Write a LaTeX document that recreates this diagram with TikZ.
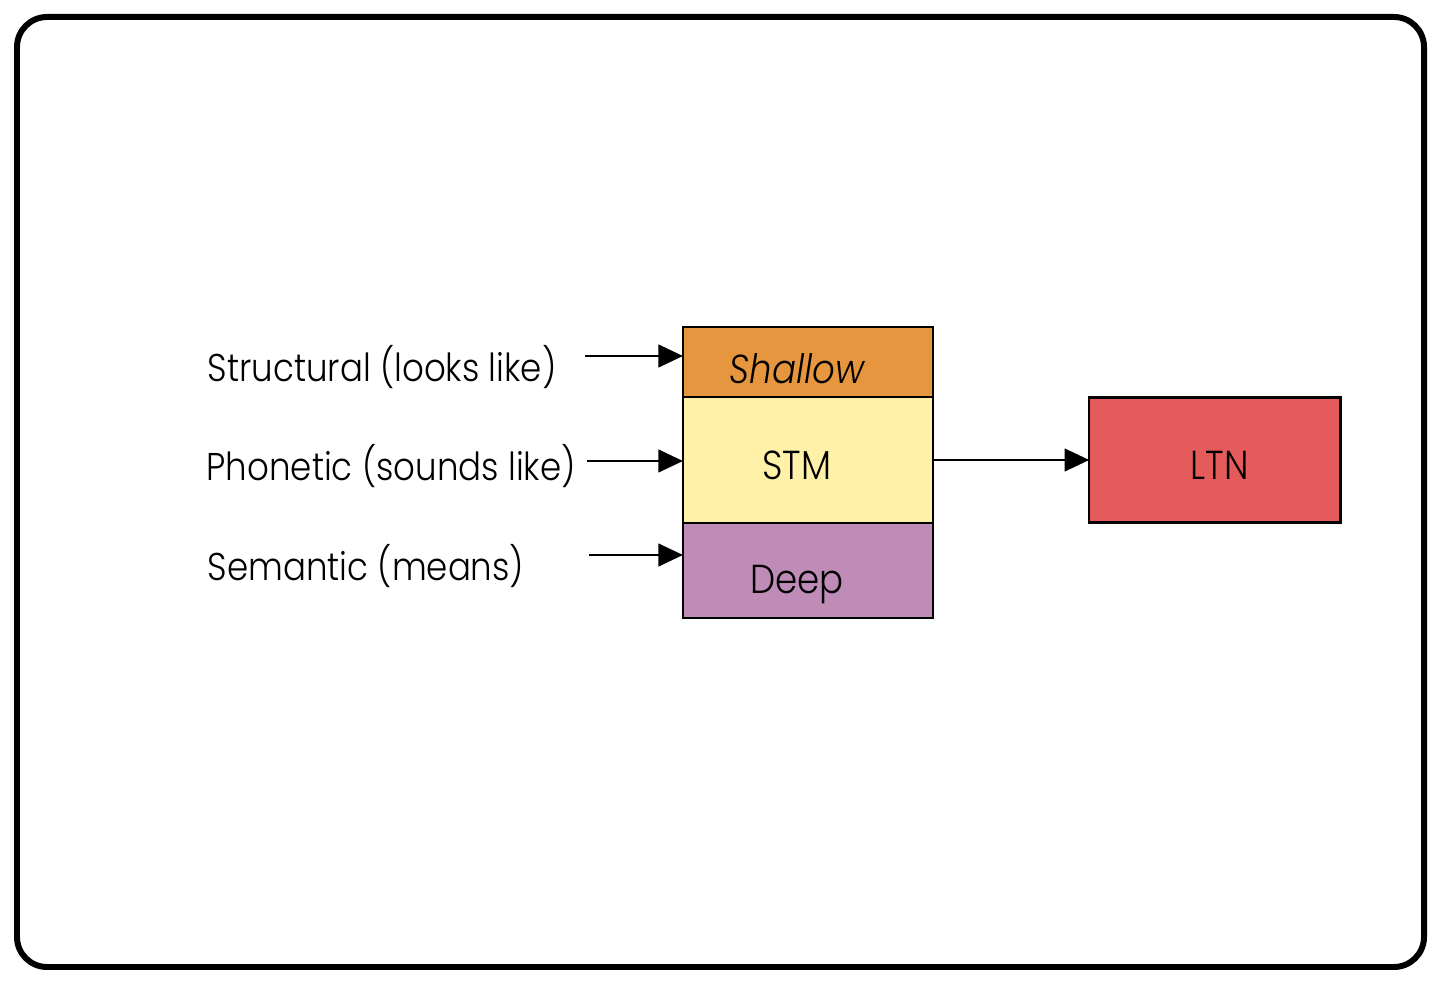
\documentclass[tikz,border=0pt]{standalone}
\usepackage{fontspec}
\setmainfont{Poppins}[UprightFont=* Light, ItalicFont=* Light Italic, FakeStretch=0.88]
\usepackage{tikz}
\usetikzlibrary{arrows.meta,positioning}
\definecolor{shallowc}{RGB}{230,150,62}
\definecolor{stmc}{RGB}{255,241,168}
\definecolor{deepc}{RGB}{191,139,183}
\definecolor{ltnc}{RGB}{229,91,91}

\begin{document}
\begin{tikzpicture}[x=0.01cm, y=-0.01cm, >={Triangle[length=7pt,width=6.5pt]}, node distance=0cm,
        every node/.style={font=\fontsize{11}{13}\selectfont}]
        \tikzstyle{layer}=[draw=black, line width=0.7pt, minimum width=2.5cm, inner sep=0pt, outer sep=0pt, text depth=0.05cm, font=\fontsize{11.5}{13}\selectfont]
        \tikzstyle{lbl}=[anchor=west, inner sep=0pt]
        \tikzstyle{arr}=[->, line width=0.55pt]
        \useasboundingbox (0,0) rectangle (1440,983);
        \draw[line width=1.7pt, rounded corners=0.3cm] (17,17) rectangle (1424,967);
        % memory layers
        \node[layer, fill=stmc, minimum height=1.26cm, text height=0.43cm]   (stm) at (808,460)   {\hspace*{-0.22cm}STM};
        \node[layer, fill=shallowc, minimum height=0.7cm, text height=0.49cm] (shallow)[above=of stm] {\hspace*{-0.22cm}\itshape Shallow};
        \node[layer, fill=deepc, minimum height=0.95cm, text height=0.51cm]  (deep)[below=of stm]  {\hspace*{-0.22cm}Deep};
        \node[layer, fill=ltnc, minimum width=2.51cm, minimum height=1.25cm, text height=0.43cm] (ltn)[right=1.56cm of stm] {\hspace*{0.1cm}LTN};
        % processing levels
        \node[lbl] (structural) at (207,367) {Structural (looks like)};
        \node[lbl] (phonetic)   at (206,466) {Phonetic (sounds like)};
        \node[lbl] (semantic)   at (207,566) {Semantic (means)};
        \coordinate (t1) at (585,356);
        \coordinate (t2) at (587,461);
        \coordinate (t3) at (589,555);
        \draw[arr] (t1) -- (t1 -| shallow.west);
        \draw[arr] (t2) -- (t2 -| stm.west);
        \draw[arr] (t3) -- (t3 -| deep.west);
        \draw[arr] (stm.east) -- (ltn.west);
\end{tikzpicture}
\end{document}
